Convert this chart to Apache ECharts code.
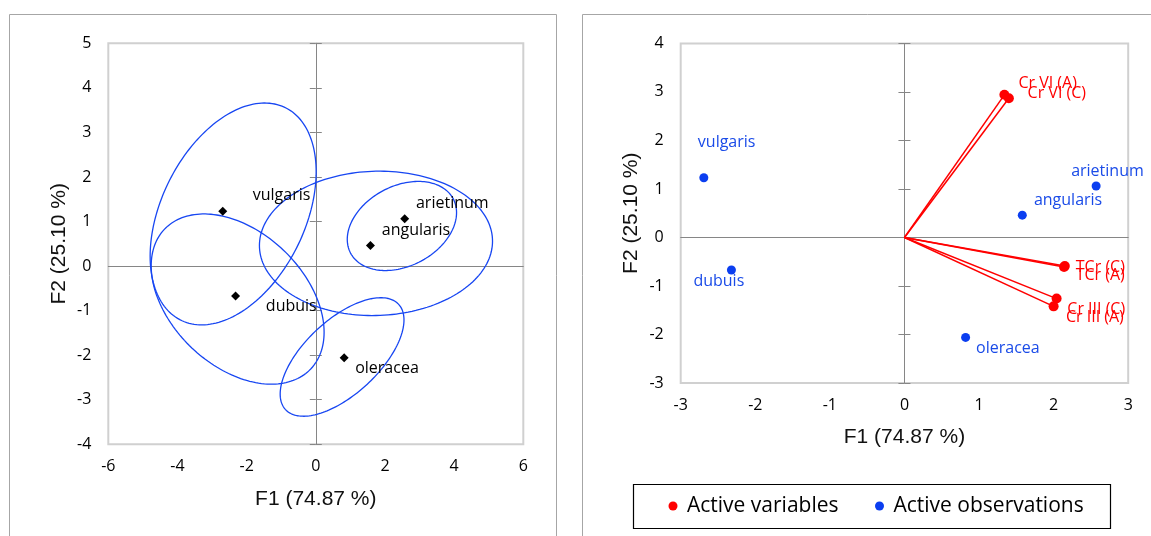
<!DOCTYPE html>
<html>
<head>
<meta charset="utf-8">
<script src="https://cdn.jsdelivr.net/npm/echarts@6/dist/echarts.min.js"></script>
<style>
html,body{margin:0;padding:0;background:#fff;}
#chart{width:1151px;height:536px;}
</style>
</head>
<body>
<div id="chart"></div>
<script>
// ---------------- DATA ----------------
// Observations (group centroids) on F1/F2
const obsNames = ['vulgaris', 'dubuis', 'arietinum', 'angularis', 'oleracea'];
const obsF1 = [-2.69, -2.32, 2.57, 1.58, 0.82];
const obsF2 = [1.23, -0.67, 1.06, 0.46, -2.06];

// Active variables (loadings, scaled)
const varNames = ['Cr VI (A)', 'Cr VI (C)', 'TCr (C)', 'TCr (A)', 'Cr III (C)', 'Cr III (A)'];
const varF1 = [1.34, 1.40, 2.15, 2.14, 2.04, 2.00];
const varF2 = [2.94, 2.87, -0.59, -0.61, -1.26, -1.42];

// Confidence ellipses (left chart): centre, half extent in x / y, tilt (sine of phase)
const ellNames = ['vulgaris', 'dubuis', 'angularis', 'arietinum', 'oleracea'];
const ellCx = [-2.39, -2.26, 1.74, 2.49, 0.76];
const ellCy = [1.17, -0.74, 0.51, 0.90, -2.04];
const ellRx = [2.40, 2.50, 3.37, 1.58, 1.79];
const ellRy = [2.49, 1.91, 1.62, 1.00, 1.33];
const ellTilt = [0.38, -0.39, 0.03, 0.30, 0.625];

// Axis ranges
const leftX = {min: -6, max: 6, step: 2};
const leftY = {min: -4, max: 5, step: 1};
const rightX = {min: -3, max: 3, step: 1};
const rightY = {min: -3, max: 4, step: 1};

const xTitle = 'F1 (74.87 %)';
const yTitle = 'F2 (25.10 %)';
const legendNames = ['Active variables', 'Active observations'];

// ---------------- STYLE / LAYOUT ----------------
const FONT = 'Open Sans';
const TITLE_FONT = 'Liberation Sans';
const BLUE = '#0b3ef0';
const BLUE_TXT = '#1a4be8';
const RED = '#ff0000';
const AXIS_GRAY = '#868686';
const BORDER_GRAY = '#d0d0d0';

// label offsets (pixels from point centre to text left / vertical middle)
const leftLabelOff = {vulgaris: [30, -15.6], dubuis: [30.3, 10.7], arietinum: [11.3, -15], angularis: [11.4, -14.7], oleracea: [11, 10.6]};
const rightObsOff = {vulgaris: [-6, -35], dubuis: [-38, 11], arietinum: [-25, -14.3], angularis: [11.6, -15], oleracea: [10.5, 11.3]};
const varOff = {'Cr VI (A)': [14, -11], 'Cr VI (C)': [18.7, -4.4], 'TCr (C)': [11, 1], 'TCr (A)': [11.6, 8], 'Cr III (C)': [10.7, 10.4], 'Cr III (A)': [12.3, 10.7]};

function lbl(off, size, color) {
  return {
    show: true,
    position: [off[0] + size / 2, off[1] + size / 2],
    align: 'left',
    verticalAlign: 'middle',
    fontFamily: FONT,
    fontSize: 16,
    color: color
  };
}

function labelAxisX(gridIndex, r, withName) {
  return {
    type: 'value', gridIndex: gridIndex, min: r.min, max: r.max, interval: r.step,
    axisLine: {show: false, onZero: false}, axisTick: {show: false}, splitLine: {show: false},
    axisLabel: {fontFamily: FONT, fontSize: 16, color: '#000', margin: 14},
    name: withName ? xTitle : '', nameLocation: 'middle', nameGap: 44,
    nameTextStyle: {fontFamily: TITLE_FONT, fontSize: 21, color: '#111'}
  };
}
function zeroAxisX(gridIndex, r) {
  return {
    type: 'value', gridIndex: gridIndex, min: r.min, max: r.max, interval: r.step,
    axisLine: {show: true, onZero: true, lineStyle: {color: AXIS_GRAY, width: 1}},
    axisTick: {show: false}, axisLabel: {show: false}, splitLine: {show: false}
  };
}
function labelAxisY(gridIndex, r) {
  return {
    type: 'value', gridIndex: gridIndex, min: r.min, max: r.max, interval: r.step,
    axisLine: {show: false, onZero: false}, axisTick: {show: false}, splitLine: {show: false},
    axisLabel: {fontFamily: FONT, fontSize: 16, color: '#000', margin: 17},
    name: yTitle, nameLocation: 'middle', nameGap: 39,
    nameTextStyle: {fontFamily: TITLE_FONT, fontSize: 21, color: '#111'}
  };
}
function zeroAxisY(gridIndex, r, inside) {
  return {
    type: 'value', gridIndex: gridIndex, min: r.min, max: r.max, interval: r.step,
    axisLine: {show: !inside, onZero: true, lineStyle: {color: AXIS_GRAY, width: 1}},
    axisTick: {show: true, inside: inside, length: 6, lineStyle: {color: AXIS_GRAY, width: 1}},
    axisLabel: {show: false}, splitLine: {show: false}
  };
}

const ellipseData = ellCx.map((c, i) => [c, ellCy[i], ellRx[i], ellRy[i], ellTilt[i]]);

const option = {
  animation: false,
  backgroundColor: '#fff',
  grid: [
    {left: 108.3, top: 43.3, width: 415, height: 401, show: true, borderColor: BORDER_GRAY, borderWidth: 2, backgroundColor: 'transparent'},
    {left: 680.7, top: 43.4, width: 447.5, height: 339.6, show: true, borderColor: BORDER_GRAY, borderWidth: 2, backgroundColor: 'transparent'}
  ],
  xAxis: [
    labelAxisX(0, leftX, true),
    zeroAxisX(0, leftX),
    labelAxisX(1, rightX, true),
    zeroAxisX(1, rightX)
  ],
  yAxis: [
    labelAxisY(0, leftY),
    zeroAxisY(0, leftY, false),
    zeroAxisY(0, leftY, true),
    labelAxisY(1, rightY),
    zeroAxisY(1, rightY, false),
    zeroAxisY(1, rightY, true)
  ],
  legend: [
    {data: [legendNames[0]], left: 668.5, top: 495, padding: 0, icon: 'circle', itemWidth: 18, itemHeight: 9,
     textStyle: {fontFamily: FONT, fontSize: 21, lineHeight: 22, color: '#000'}, selectedMode: false},
    {data: [legendNames[1]], left: 875, top: 495, padding: 0, icon: 'circle', itemWidth: 18, itemHeight: 9,
     textStyle: {fontFamily: FONT, fontSize: 21, lineHeight: 22, color: '#000'}, selectedMode: false}
  ],
  graphic: [
    {type: 'rect', silent: true, z: -10, shape: {x: 9.5, y: 14.5, width: 547, height: 600}, style: {fill: 'none', stroke: '#a6a6a6', lineWidth: 1}},
    {type: 'rect', silent: true, z: -10, shape: {x: 582.5, y: 14.5, width: 700, height: 600}, style: {fill: 'none', stroke: '#a6a6a6', lineWidth: 1}},
    {type: 'rect', silent: true, z: -10, shape: {x: 633.5, y: 484.5, width: 477, height: 44}, style: {fill: 'none', stroke: '#000', lineWidth: 1.2}}
  ],
  series: [
    {
      type: 'custom', name: 'ellipses', xAxisIndex: 0, yAxisIndex: 0, silent: true, z: 3,
      data: ellipseData,
      encode: {x: 0, y: 1},
      renderItem: function (params, api) {
        const cx = api.value(0), cy = api.value(1), rx = api.value(2), ry = api.value(3);
        const d = Math.asin(api.value(4));
        const pts = [];
        const N = 180;
        for (let k = 0; k <= N; k++) {
          const t = 2 * Math.PI * k / N;
          pts.push(api.coord([cx + rx * Math.cos(t), cy + ry * Math.sin(t + d)]));
        }
        return {type: 'polygon', shape: {points: pts}, style: {fill: 'none', stroke: '#1746f2', lineWidth: 1.3}};
      }
    },
    {
      type: 'scatter', name: 'centroids', xAxisIndex: 0, yAxisIndex: 0, symbol: 'diamond', symbolSize: 9, z: 5,
      itemStyle: {color: '#000', opacity: 1}, silent: true,
      data: obsNames.map((n, i) => ({name: n, value: [obsF1[i], obsF2[i]], label: Object.assign(lbl(leftLabelOff[n], 9, '#000'), {formatter: n})}))
    },
    {
      type: 'lines', name: 'vectors', coordinateSystem: 'cartesian2d', xAxisIndex: 2, yAxisIndex: 3, silent: true, z: 3,
      lineStyle: {color: RED, width: 1.5, opacity: 1},
      data: varNames.map((n, i) => ({coords: [[0, 0], [varF1[i], varF2[i]]]}))
    },
    {
      type: 'scatter', name: legendNames[0], xAxisIndex: 2, yAxisIndex: 3, symbol: 'circle', symbolSize: 10, z: 5,
      itemStyle: {color: RED, opacity: 1}, silent: true,
      data: varNames.map((n, i) => ({name: n, value: [varF1[i], varF2[i]], label: Object.assign(lbl(varOff[n], 10, RED), {formatter: n})}))
    },
    {
      type: 'scatter', name: legendNames[1], xAxisIndex: 2, yAxisIndex: 3, symbol: 'circle', symbolSize: 9, z: 5,
      itemStyle: {color: BLUE, opacity: 1}, silent: true,
      data: obsNames.map((n, i) => ({name: n, value: [obsF1[i], obsF2[i]], label: Object.assign(lbl(rightObsOff[n], 9, BLUE_TXT), {formatter: n})}))
    }
  ]
};

const chart = echarts.init(document.getElementById('chart'));
chart.setOption(option);
</script>
</body>
</html>
